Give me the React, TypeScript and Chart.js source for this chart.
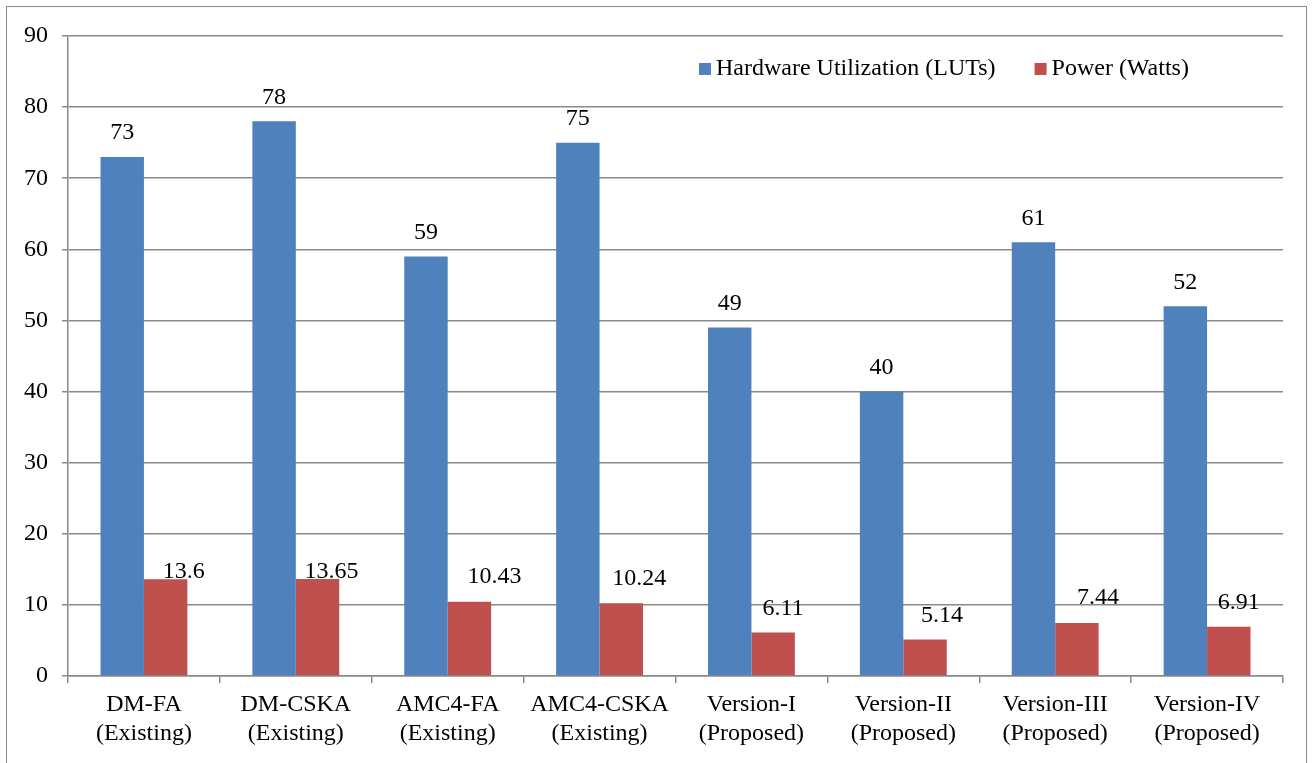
import React, { useEffect, useRef } from "react";
import { Chart, registerables } from "chart.js";

Chart.register(...registerables);

const categories: string[][] = [
  ["DM-FA", "(Existing)"],
  ["DM-CSKA", "(Existing)"],
  ["AMC4-FA", "(Existing)"],
  ["AMC4-CSKA", "(Existing)"],
  ["Version-I", "(Proposed)"],
  ["Version-II", "(Proposed)"],
  ["Version-III", "(Proposed)"],
  ["Version-IV", "(Proposed)"],
];
const hardwareLUTs: number[] = [73, 78, 59, 75, 49, 40, 61, 52];
const powerWatts: number[] = [13.6, 13.65, 10.43, 10.24, 6.11, 5.14, 7.44, 6.91];
const seriesNames: string[] = ["Hardware Utilization (LUTs)", "Power (Watts)"];
const yTicks: number[] = [0, 10, 20, 30, 40, 50, 60, 70, 80, 90];

// label placement tweaks (style only)
const powerLabelDx: number[] = [18, 14, 25, 18, 10, 17, 21, 10];
const powerLabelDy: number[] = [-8, -7, -25, -24, -24, -24, -25, -24];

const FONT = "'Liberation Serif', 'Times New Roman', serif";
const BLUE = "#4F81BD";
const RED = "#C0504D";
const GRID = "#8a8a8a";

const labelPlugin = {
  id: "valueLabels",
  afterDatasetsDraw(chart: any) {
    const ctx = chart.ctx;
    ctx.save();
    ctx.font = `24px ${FONT}`;
    ctx.fillStyle = "#000";
    ctx.textAlign = "center";
    ctx.textBaseline = "middle";
    chart.data.datasets.forEach((ds: any, di: number) => {
      const meta = chart.getDatasetMeta(di);
      meta.data.forEach((bar: any, i: number) => {
        const v = ds.data[i];
        if (di === 0) {
          ctx.fillText(String(v), bar.x, bar.y - 24);
        } else {
          ctx.fillText(String(v), bar.x + powerLabelDx[i], bar.y + powerLabelDy[i]);
        }
      });
    });
    ctx.restore();
  },
  afterDraw(chart: any) {
    const ctx = chart.ctx;
    ctx.save();
    ctx.font = `24px ${FONT}`;
    ctx.textBaseline = "middle";
    ctx.textAlign = "left";
    let x = 699;
    const cy = 69;
    chart.data.datasets.forEach((ds: any, di: number) => {
      ctx.fillStyle = ds.backgroundColor;
      ctx.fillRect(x, cy - 6, 12, 12);
      ctx.fillStyle = "#000";
      ctx.fillText(ds.label, x + 17, cy);
      x += 17 + ctx.measureText(ds.label).width + 39;
    });
    ctx.restore();
  },
};

export default function App() {
  const canvasRef = useRef<HTMLCanvasElement | null>(null);

  useEffect(() => {
    const canvas = canvasRef.current;
    if (!canvas) return;
    const chart = new Chart(canvas, {
      type: "bar",
      data: {
        labels: categories,
        datasets: [
          {
            label: seriesNames[0],
            data: hardwareLUTs,
            backgroundColor: BLUE,
            borderWidth: 0,
            categoryPercentage: 0.572,
            barPercentage: 1,
          },
          {
            label: seriesNames[1],
            data: powerWatts,
            backgroundColor: RED,
            borderWidth: 0,
            categoryPercentage: 0.572,
            barPercentage: 1,
          },
        ],
      },
      options: {
        responsive: false,
        animation: false,
        devicePixelRatio: 1,
        layout: { padding: { top: 36, right: 29, left: 0, bottom: 0 } },
        plugins: {
          legend: { display: false },
          tooltip: { enabled: false },
          title: { display: false },
        },
        scales: {
          x: {
            grid: {
              display: true,
              drawOnChartArea: false,
              drawTicks: true,
              tickLength: 7,
              color: GRID,
              lineWidth: 1.5,
              offset: true,
            },
            border: { display: true, color: GRID, width: 1.5 },
            ticks: {
              color: "#000",
              font: { family: FONT, size: 24, lineHeight: 1.18 },
              padding: 8,
              autoSkip: false,
              maxRotation: 0,
              minRotation: 0,
            },
            afterFit(scale: any) {
              scale.height = 87;
            },
          },
          y: {
            min: 0,
            max: 90,
            afterBuildTicks(scale: any) {
              scale.ticks = yTicks.map((v) => ({ value: v }));
            },
            grid: {
              color: GRID,
              lineWidth: 1.5,
              drawTicks: true,
              tickLength: 6,
            },
            border: { display: true, color: GRID, width: 1.5 },
            ticks: {
              color: "#000",
              font: { family: FONT, size: 24 },
              padding: 14,
            },
            afterFit(scale: any) {
              scale.width = 68;
            },
          },
        },
      },
      plugins: [labelPlugin],
    });
    return () => chart.destroy();
  }, []);

  return (
    <>
      <div
        style={{
          position: "fixed",
          left: 6,
          top: 6,
          width: 1301,
          height: 820,
          border: "1.5px solid #8a8a8a",
          boxSizing: "border-box",
          background: "#fff",
        }}
      />
      <canvas
        ref={canvasRef}
        width={1312}
        height={763}
        style={{ position: "fixed", left: 0, top: 0, width: 1312, height: 763 }}
      />
    </>
  );
}
